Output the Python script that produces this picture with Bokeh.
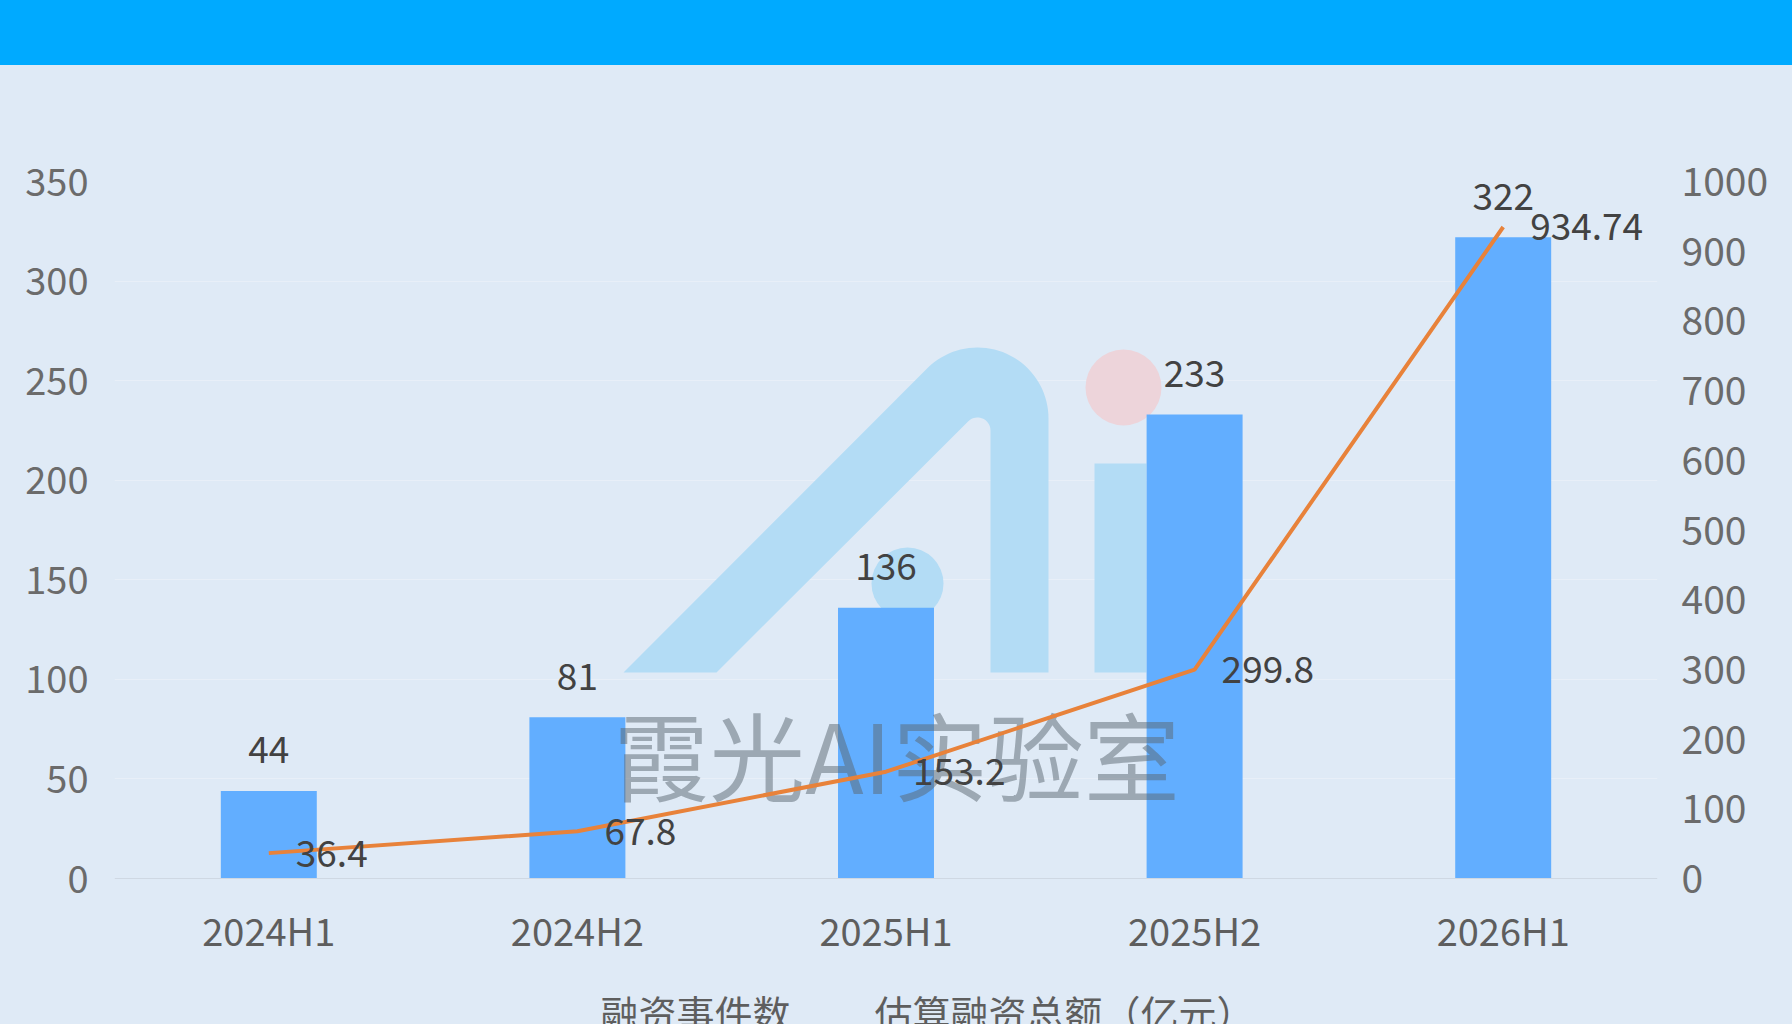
import numpy as np
from bokeh.plotting import figure
from bokeh.models import ColumnDataSource, Range1d, LinearAxis, FixedTicker, LabelSet, Label, Span, Div
from bokeh.layouts import column
from bokeh.embed import file_html
from bokeh.resources import INLINE
from bokeh.core.properties import value

# ---------------- data ----------------
periods = ["2024H1", "2024H2", "2025H1", "2025H2", "2026H1"]
event_counts = [44, 81, 136, 233, 322]
funding_total = [36.4, 67.8, 153.2, 299.8, 934.74]
funding_labels = ["36.4", "67.8", "153.2", "299.8", "934.74"]
left_ticks = [0, 50, 100, 150, 200, 250, 300, 350]
right_ticks = [0, 100, 200, 300, 400, 500, 600, 700, 800, 900, 1000]
legend_labels = ["融资事件数", "估算融资总额（亿元）"]
watermark_text = "霞光AI实验室"

# ---------------- style ----------------
FONT = "Noto Sans CJK SC"
BG = "#DFEAF6"
BANNER = "#00AAFF"
BAR = "#62AEFF"
LINE = "#E8823A"
LOGO = "#B3DCF5"
DOT = "#EDD4DA"
TICK_COLOR = "#6B6B6B"
LABEL_COLOR = "#424242"

W = 1792
TOTAL_H = 1024
BANNER_H = 65
H = TOTAL_H - BANNER_H

# layout in picture pixels
FX0, FX1 = 114, 1657         # frame left/right
Y_TOP, Y_ZERO = 181, 878     # pixel rows of the 350 / 0 values
PX_PER_UNIT = (Y_ZERO - Y_TOP) / 350.0
Y_MIN = -(TOTAL_H - Y_ZERO) / PX_PER_UNIT   # frame extends to the bottom of the page


def px_to_cat(px):
    """picture x-pixel -> synthetic categorical coordinate (decoration placement)"""
    return (np.asarray(px, dtype=float) - FX0) / ((FX1 - FX0) / len(periods))


# ---------------- banner ----------------
banner = Div(text="", width=W, height=BANNER_H, margin=0, styles={"background-color": BANNER})

# ---------------- main chart ----------------
p = figure(x_range=periods, y_range=Range1d(Y_MIN, 350), width=W, height=H,
           toolbar_location=None, output_backend="svg", x_axis_location=None,
           background_fill_color=None, border_fill_color=None, outline_line_color=None,
           min_border_left=FX0, min_border_right=W - FX1, min_border_top=Y_TOP - BANNER_H,
           min_border_bottom=0)

p.extra_y_ranges = {"amt": Range1d(Y_MIN * 1000 / 350, 1000), "px": Range1d(TOTAL_H, Y_TOP)}

# axes
p.yaxis.ticker = FixedTicker(ticks=left_ticks)
p.yaxis.axis_line_color = None
p.yaxis.major_tick_line_color = None
p.yaxis.minor_tick_line_color = None
p.yaxis.major_label_text_font = FONT
p.yaxis.major_label_text_font_size = "38px"
p.yaxis.major_label_text_color = TICK_COLOR
p.yaxis.major_label_standoff = 20

ra = LinearAxis(y_range_name="amt", ticker=FixedTicker(ticks=right_ticks))
ra.axis_line_color = None
ra.major_tick_line_color = None
ra.minor_tick_line_color = None
ra.major_label_text_font = FONT
ra.major_label_text_font_size = "39px"
ra.major_label_text_color = TICK_COLOR
ra.major_label_standoff = 18
p.add_layout(ra, "right")

p.ygrid.ticker = FixedTicker(ticks=left_ticks)
p.ygrid.grid_line_color = "#E8EFF8"
p.xgrid.grid_line_color = None

# watermark logo (decoration, pixel coordinates of the picture)
th_o = np.linspace(-0.75 * np.pi, 0, 40)
th_i = np.linspace(0, -0.75 * np.pi, 20)
arch_x = [623] + list(977 + 71 * np.cos(th_o)) + [1048, 990] + list(977 + 13 * np.cos(th_i)) + [716]
arch_y = [672] + list(418 + 71 * np.sin(th_o)) + [672, 672] + list(430 + 13 * np.sin(th_i)) + [672]
p.patch(list(px_to_cat(arch_x)), arch_y, y_range_name="px", fill_color=LOGO, line_color=None)
p.quad(left=list(px_to_cat([1094])), right=list(px_to_cat([1146])), top=[463], bottom=[672],
       y_range_name="px", fill_color=LOGO, line_color=None)
p.scatter(x=list(px_to_cat([1123])), y=[387], size=76, y_range_name="px", fill_color=DOT, line_color=None)
p.scatter(x=list(px_to_cat([907])), y=[583], size=72, y_range_name="px", fill_color=LOGO, line_color=None)

src = ColumnDataSource(dict(period=periods, count=event_counts, count_label=[str(v) for v in event_counts],
                            amt=funding_total, amt_label=funding_labels, zero=[0] * len(periods)))

p.vbar(x="period", top="count", width=0.311, source=src, fill_color=BAR, line_color=None)

# x axis line
p.add_layout(Span(location=0, dimension="width", line_color="#CFD8E3", line_width=1))

p.text(x=list(px_to_cat([896])), y=[752], text=[watermark_text], y_range_name="px",
       text_font=value(FONT), text_font_size="96px",
       text_color="#5A6570", text_alpha=0.50, text_align="center", text_baseline="middle")

p.line(x="period", y="amt", source=src, y_range_name="amt", line_color=LINE, line_width=4)

p.add_layout(LabelSet(x="period", y="count", text="count_label", source=src, y_offset=41,
                      text_align="center", text_baseline="middle", text_font=value(FONT),
                      text_font_size="37px", text_color=LABEL_COLOR))
p.add_layout(LabelSet(x="period", y="amt", text="amt_label", source=src, y_range_name="amt",
                      x_offset=27, text_align="left", text_baseline="middle", text_font=value(FONT),
                      text_font_size="37px", text_color=LABEL_COLOR))

# category labels under the axis line
p.add_layout(LabelSet(x="period", y="zero", text="period", source=src, y_offset=-51,
                      text_align="center", text_baseline="middle", text_font=value(FONT),
                      text_font_size="38px", text_color="#5E5E5E"))

# legend texts (no icons visible in the reference)
for lx, txt in zip([600, 874], legend_labels):
    p.add_layout(Label(x=float(px_to_cat(lx)), y=1011, y_range_name="px", text=txt,
                       text_align="left", text_baseline="middle", text_font=FONT,
                       text_font_size="38px", text_color="#5E5E5E"))

layout = column(banner, p, spacing=0, styles={"background-color": BG})
open("out.html", "w").write(file_html(layout, INLINE))
